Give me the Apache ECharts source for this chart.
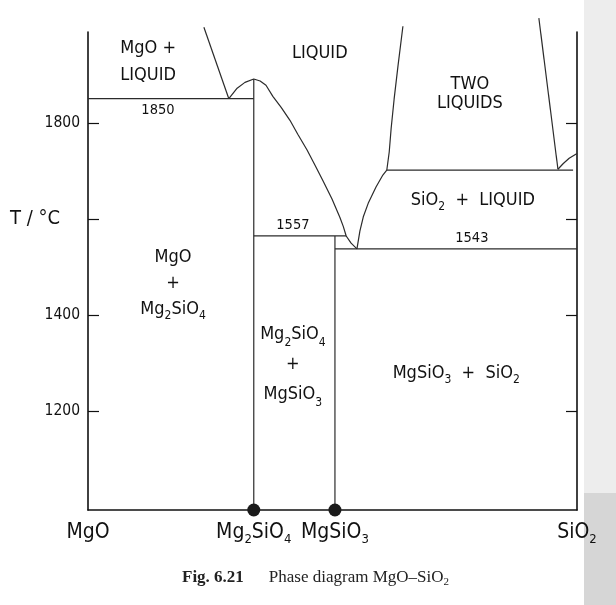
<!DOCTYPE html>
<html><head><meta charset="utf-8">
<script src="https://cdn.jsdelivr.net/npm/echarts@6/dist/echarts.min.js"></script>
<style>html,body{margin:0;padding:0;background:#fff}#c{width:616px;height:605px}</style>
</head><body><div id="c"></div>
<script>
// ---- data (composition = mole fraction SiO2, temperature in °C) ----
const compounds = ['MgO', 'Mg2SiO4', 'MgSiO3', 'SiO2'];
const compoundX = [0, 0.339, 0.505, 1.0];
const tempTicks = [1200, 1400, 1600, 1800];
const tempRange = [994, 1990];
const tempAxisTitle = 'T / °C';

const mgoLiquidus = [[0.237, 2000], [0.288, 1851]];
const forsteriteLiquidus = [[0.288, 1851], [0.305, 1873], [0.321, 1885], [0.339, 1892], [0.352, 1888], [0.364, 1879],
  [0.378, 1856], [0.395, 1833], [0.413, 1806], [0.429, 1777], [0.448, 1744], [0.464, 1713], [0.481, 1679],
  [0.499, 1642], [0.515, 1604], [0.522, 1585], [0.528, 1565], [0.538, 1550], [0.550, 1538]];
const silicaLiquidus = [[0.550, 1538], [0.556, 1575], [0.563, 1605], [0.573, 1633], [0.589, 1667], [0.603, 1692], [0.611, 1702]];
const domeLeft = [[0.611, 1702], [0.616, 1740], [0.620, 1790], [0.626, 1850], [0.634, 1920], [0.644, 2002]];
const domeRight = [[0.961, 1704], [0.922, 2019]];
const silicaLiquidusRight = [[0.961, 1704], [0.972, 1716], [0.984, 1727], [1.0, 1737]];
const monotectic = [[0.611, 1702], [0.992, 1702]];
const isotherm1850 = [[0, 1851], [0.339, 1851]];
const isotherm1557 = [[0.339, 1565], [0.528, 1565]];
const isotherm1543 = [[0.505, 1538], [1.0, 1538]];
const forsteriteLine = [[0.339, 994], [0.339, 1892]];
const enstatiteLine = [[0.505, 994], [0.505, 1565]];

const phaseLabels = [
  [0.123, 1928, 'MgO +\nLIQUID'],
  [0.474, 1946, 'LIQUID'],
  [0.781, 1862, 'TWO\nLIQUIDS'],
  [0.174, 1467, 'MgO\n+\nMg2SiO4'],
  [0.419, 1298, 'Mg2SiO4\n+\nMgSiO3'],
  [0.787, 1640, 'SiO2  +  LIQUID'],
  [0.753, 1279, 'MgSiO3  +  SiO2']
];
const isothermLabels = [
  [0.143, 1827, '1850'],
  [0.419, 1588, '1557'],
  [0.785, 1560, '1543']
];
const captionBold = 'Fig. 6.21';
const captionText = 'Phase diagram MgO–SiO2';

// ---- styling helpers ----
const SANS = "'DejaVu Sans Condensed','Liberation Sans Narrow','Liberation Sans',sans-serif";
const SERIF = "'Liberation Serif','DejaVu Serif',serif";
const INK = '#111111';
const leading = { 'TWO\nLIQUIDS': 19, 'Mg2SiO4\n+\nMgSiO3': 30, 'MgO +\nLIQUID': 27 };

function toRich(str, n, s) {
  return str.split('\n').map(function (line) {
    const parts = line.replace(/([A-Za-z])(\d+)/g, function (m, a, d) { return a + '\u0001' + d + '\u0002'; })
      .split(/(\u0001\d+\u0002)/).filter(function (t) { return t.length; });
    return parts.map(function (t) {
      return t[0] === '\u0001' ? '{' + s + '|' + t.slice(1, -1) + '}' : '{' + n + '|' + t + '}';
    }).join('');
  }).join('\n');
}
const labelRich = {};
[19, 26, 27, 30].forEach(function (lh) {
  labelRich['n' + lh] = { fontFamily: SANS, fontSize: 18, lineHeight: lh, color: INK };
  labelRich['s' + lh] = { fontFamily: SANS, fontSize: 12, lineHeight: Math.round(lh * 0.45), verticalAlign: 'bottom', color: INK };
});

function lineSeries(data) {
  return {
    type: 'line', data: data, symbol: 'none', smooth: false, clip: false, silent: true,
    lineStyle: { color: '#2b2b2b', width: 1.2 }, z: 3
  };
}

const chart = echarts.init(document.getElementById('c'), null, { renderer: 'canvas' });
chart.setOption({
  animation: false,
  backgroundColor: '#ffffff',
  title: {
    text: '{b|' + captionBold + '}' + toRich(captionText, 'r', 'rs'),
    left: 182, top: 568, padding: 0,
    textStyle: {
      rich: {
        b: { fontFamily: SERIF, fontSize: 17, fontWeight: 'bold', color: '#222', lineHeight: 20, padding: [0, 25, 0, 0] },
        r: { fontFamily: SERIF, fontSize: 17, fontWeight: 'normal', color: '#222', lineHeight: 20 },
        rs: { fontFamily: SERIF, fontSize: 11, fontWeight: 'normal', color: '#222', lineHeight: 8, verticalAlign: 'bottom' }
      }
    }
  },
  graphic: [
    { type: 'rect', shape: { x: 584, y: 0, width: 32, height: 493 }, style: { fill: '#ededed' }, z: -10, silent: true },
    { type: 'rect', shape: { x: 584, y: 493, width: 32, height: 112 }, style: { fill: '#d6d6d6' }, z: -10, silent: true }
  ],
  grid: { left: 88, right: 39, top: 32, bottom: 95 },
  xAxis: {
    type: 'value', min: 0, max: 1,
    axisLine: { show: true, lineStyle: { color: INK, width: 1.6 } },
    axisTick: { show: false },
    splitLine: { show: false },
    axisLabel: {
      customValues: compoundX,
      margin: 10,
      formatter: function (v) {
        const i = compoundX.indexOf(v);
        return i < 0 ? '' : toRich(compounds[i], 'b', 'bs');
      },
      rich: {
        b: { fontFamily: SANS, fontSize: 21, lineHeight: 26, color: INK },
        bs: { fontFamily: SANS, fontSize: 13, lineHeight: 11, verticalAlign: 'bottom', color: INK }
      }
    }
  },
  yAxis: [{
    type: 'value', min: tempRange[0], max: tempRange[1], position: 'left',
    axisLine: { show: true, lineStyle: { color: INK, width: 1.6 } },
    axisTick: { show: true, inside: true, length: 11, customValues: tempTicks, lineStyle: { color: INK, width: 1.2 } },
    splitLine: { show: false },
    axisLabel: {
      customValues: tempTicks, margin: 8,
      formatter: function (v) { return v === 1600 ? '{t|' + tempAxisTitle + '}' : '{v|' + v + '}'; },
      rich: {
        v: { fontFamily: SANS, fontSize: 15.5, color: INK },
        t: { fontFamily: SANS, fontSize: 20, color: INK, padding: [0, 20, 0, 0] }
      }
    }
  }, {
    type: 'value', min: tempRange[0], max: tempRange[1], position: 'right',
    axisLine: { show: true, lineStyle: { color: INK, width: 1.6 } },
    axisTick: { show: true, inside: true, length: 11, customValues: tempTicks, lineStyle: { color: INK, width: 1.2 } },
    splitLine: { show: false },
    axisLabel: { show: false }
  }],
  series: [
    lineSeries(mgoLiquidus),
    lineSeries(forsteriteLiquidus),
    lineSeries(silicaLiquidus),
    lineSeries(domeLeft),
    lineSeries(domeRight),
    lineSeries(silicaLiquidusRight),
    lineSeries(monotectic),
    lineSeries(isotherm1850),
    lineSeries(isotherm1557),
    lineSeries(isotherm1543),
    lineSeries(forsteriteLine),
    lineSeries(enstatiteLine),
    {
      type: 'scatter', clip: false, silent: true, z: 5,
      data: [[compoundX[1], tempRange[0]], [compoundX[2], tempRange[0]]],
      symbol: 'circle', symbolSize: 13, itemStyle: { color: '#1a1a1a', opacity: 1 }
    },
    {
      type: 'scatter', clip: false, silent: true, symbolSize: 0, z: 6,
      itemStyle: { opacity: 1 },
      data: phaseLabels.map(function (d) { return { value: [d[0], d[1]], name: d[2] }; }),
      label: {
        show: true, position: 'inside',
        formatter: function (p) {
          const lh = leading[p.name] || 26;
          return toRich(p.name, 'n' + lh, 's' + lh);
        },
        rich: labelRich
      }
    },
    {
      type: 'scatter', clip: false, silent: true, symbolSize: 0, z: 6,
      itemStyle: { opacity: 1 },
      data: isothermLabels.map(function (d) { return { value: [d[0], d[1]], name: d[2] }; }),
      label: {
        show: true, position: 'inside', formatter: '{b}',
        fontFamily: SANS, fontSize: 14.5, color: INK
      }
    }
  ]
});
</script>
</body></html>
